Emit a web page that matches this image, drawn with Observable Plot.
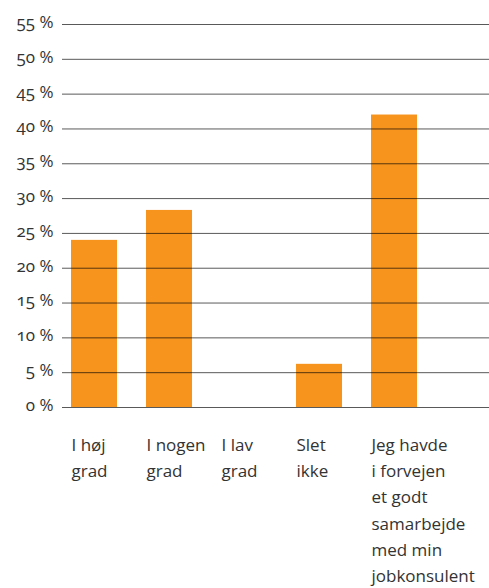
<!DOCTYPE html>
<html>
<head>
<meta charset="utf-8">
<script src="https://cdn.jsdelivr.net/npm/d3@7"></script>
<script src="https://cdn.jsdelivr.net/npm/@observablehq/plot@0.6"></script>
<style>
  html, body { margin: 0; padding: 0; background: #fff; }
  svg text { font-family: "Open Sans", "Noto Sans", sans-serif; font-variant-numeric: oldstyle-nums; font-feature-settings: "onum" 1; }
</style>
</head>
<body>
<div id="chart"></div>
<script>
const categories = ["I høj grad", "I nogen grad", "I lav grad", "Slet ikke", "Jeg havde i forvejen et godt samarbejde med min jobkonsulent"];
const values = [24, 28.3, 0, 6.2, 42];
const labels = ["I høj\ngrad", "I nogen\ngrad", "I lav\ngrad", "Slet\nikke", "Jeg havde\ni forvejen\net godt\nsamarbejde\nmed min\njobkonsulent"];
const yTicks = [0, 5, 10, 15, 20, 25, 30, 35, 40, 45, 50, 55];

const data = categories.map((c, i) => ({cat: c, value: values[i], label: labels[i]}));

const chart = Plot.plot({
  width: 489,
  height: 588,
  marginLeft: 62,
  marginRight: 0,
  marginTop: 24,
  marginBottom: 181,
  style: {fontFamily: "Open Sans", fontSize: "17px", color: "#333", background: "#fff"},
  x: {domain: categories, range: [40.5, 447.5], padding: 0.391, axis: null},
  y: {domain: [0, 55], axis: null},
  marks: [
    Plot.barY(data, {x: "cat", y: "value", fill: "#f7941e"}),
    Plot.ruleY(yTicks, {stroke: "#000", strokeOpacity: 0.65}),
    Plot.axisY({ticks: yTicks, label: null, tickSize: 0, tickPadding: 9, tickFormat: d => d + " %", dy: -2, fontSize: 17, fill: "#333"}),
    Plot.text(data, {x: "cat", text: "label", frameAnchor: "bottom", textAnchor: "start", lineAnchor: "top", dx: -23, dy: 25, lineHeight: 1.54, fontSize: 17, fill: "#333"})
  ]
});
document.getElementById("chart").appendChild(chart);
</script>
</body>
</html>
